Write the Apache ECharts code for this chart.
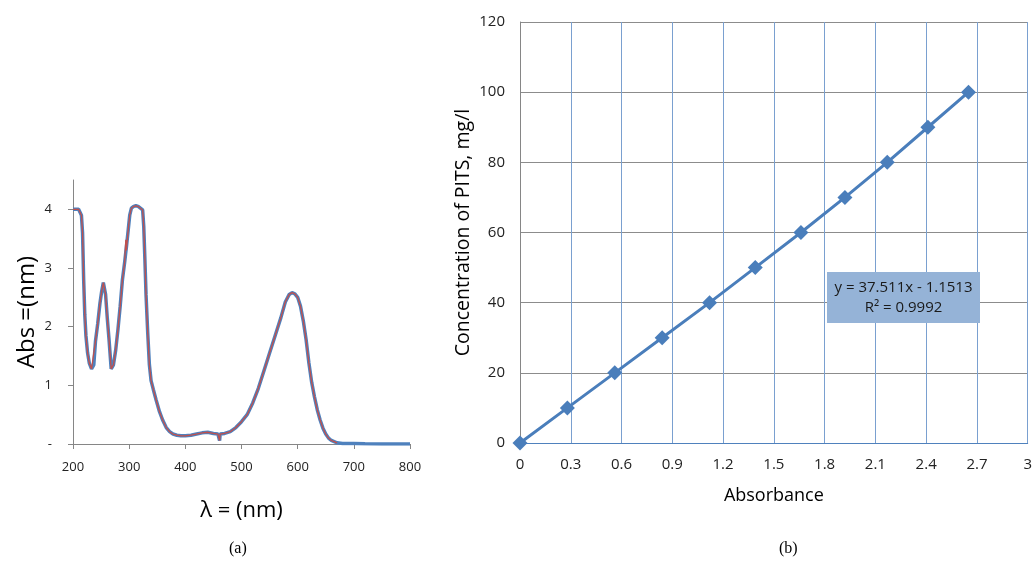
<!DOCTYPE html>
<html>
<head>
<meta charset="utf-8">
<script src="https://cdn.jsdelivr.net/npm/echarts@6/dist/echarts.min.js"></script>
<style>html,body{margin:0;padding:0;background:#fff}#c{width:1035px;height:564px}</style>
</head>
<body>
<div id="c"></div>
<script>
// ---- (a) absorption spectrum ----
const wavelengths = [200,205,210,213,215,217,219,221,223,226,229,233,236,237,240,244,248,251,254,256,258,261,264,268,272,276,280,284,288,292,294,295,298,301,304,308,312,316,320,324,326,328,330,333,336,339,343,348,354,360,366,372,378,385,392,400,410,420,430,440,450,458,460,461,462,470,480,490,500,510,520,530,540,550,560,570,578,585,590,595,600,605,610,615,620,625,630,635,640,645,650,655,660,665,670,680,700,720,750,800];
const absBlue = [4.0,4.0,4.0,4.0,3.9,3.6,2.8,2.2,1.85,1.55,1.38,1.28,1.3,1.35,1.75,2.05,2.4,2.6,2.75,2.72,2.55,2.15,1.8,1.28,1.35,1.6,1.95,2.35,2.8,3.1,3.27,3.35,3.62,3.9,4.02,4.05,4.06,4.05,4.02,3.99,3.7,3.15,2.55,1.9,1.35,1.08,0.93,0.75,0.55,0.4,0.28,0.21,0.17,0.15,0.14,0.14,0.15,0.17,0.19,0.2,0.18,0.17,0.17,0.06,0.17,0.18,0.21,0.28,0.38,0.5,0.7,0.95,1.25,1.55,1.85,2.15,2.42,2.55,2.58,2.56,2.5,2.35,2.1,1.78,1.38,1.05,0.8,0.58,0.41,0.27,0.17,0.1,0.06,0.04,0.02,0.01,0.01,0.005,0,0];
const absRed = [4.0,4.0,4.0,4.0,3.9,3.6,2.8,2.2,1.85,1.55,1.38,1.28,1.3,1.55,1.75,2.05,2.4,2.6,2.75,2.72,2.55,2.15,1.8,1.28,1.35,1.6,1.95,2.35,2.8,3.1,3.48,3.3,3.62,3.9,4.02,4.05,4.06,4.05,4.02,3.99,3.7,3.15,2.55,1.9,1.35,1.08,0.93,0.75,0.55,0.4,0.28,0.21,0.17,0.15,0.14,0.14,0.15,0.17,0.19,0.2,0.18,0.17,0.17,0.06,0.17,0.18,0.21,0.28,0.38,0.5,0.7,0.95,1.25,1.55,1.85,2.15,2.42,2.55,2.58,2.56,2.5,2.35,2.1,1.78,1.38,1.05,0.8,0.58,0.41,0.27,0.17,0.1,0.06,0.04,0.02];
const absTicks = [0,1,2,3,4];

// ---- (b) calibration ----
const absorbance = [0,0.28,0.56,0.84,1.12,1.39,1.66,1.92,2.17,2.41,2.65];
const concentration = [0,10,20,30,40,50,60,70,80,90,100];
const fitText = ['y = 37.511x - 1.1513','R² = 0.9992'];

const blueData = wavelengths.map((w,i)=>[w,absBlue[i]]);
const redData = absRed.map((v,i)=>[wavelengths[i],v]);
const calData = absorbance.map((a,i)=>[a,concentration[i]]);

const FONT = '"Open Sans", sans-serif';
const chart = echarts.init(document.getElementById('c'));
chart.setOption({
  animation:false,
  backgroundColor:'#fff',
  grid:[
    {left:73,right:625,top:180,bottom:120},
    {left:520,right:6,top:22,bottom:121}
  ],
  xAxis:[
    {gridIndex:0,type:'value',min:200,max:800,interval:100,
     name:'λ = (nm)',nameLocation:'middle',nameGap:56,
     nameTextStyle:{fontFamily:FONT,fontSize:22,color:'#000'},
     axisLine:{lineStyle:{color:'#868686',width:1}},
     axisTick:{show:true,length:5,lineStyle:{color:'#868686'}},
     axisLabel:{fontFamily:FONT,fontSize:13,color:'#222',margin:17},
     splitLine:{show:false}},
    {gridIndex:1,type:'value',min:0,max:3,interval:0.3,
     name:'Absorbance',nameLocation:'middle',nameGap:44,
     nameTextStyle:{fontFamily:FONT,fontSize:18,color:'#000'},
     axisLine:{onZero:false,lineStyle:{color:'#4f81bd',width:1}},
     axisTick:{show:false},
     axisLabel:{fontFamily:FONT,fontSize:15,color:'#222',margin:14,
       formatter:v=>String(+v.toFixed(1))},
     splitLine:{show:true,lineStyle:{color:'#7aa0d0',width:1}}}
  ],
  yAxis:[
    {gridIndex:0,type:'value',min:0,max:4.5,
     name:'Abs =(nm)',nameLocation:'middle',nameGap:34,
     nameTextStyle:{fontFamily:FONT,fontSize:24,color:'#000'},
     axisLine:{show:true,lineStyle:{color:'#868686',width:1}},
     axisTick:{show:true,length:5,customValues:absTicks,lineStyle:{color:'#868686'}},
     axisLabel:{fontFamily:FONT,fontSize:13,color:'#222',margin:21,customValues:absTicks,
       formatter:v=>v===0?'-':String(v)},
     splitLine:{show:false}},
    {gridIndex:1,type:'value',min:0,max:120,interval:20,
     name:'Concentration of PITS, mg/l',nameLocation:'middle',nameGap:47,
     nameTextStyle:{fontFamily:FONT,fontSize:19.5,color:'#000'},
     axisLine:{show:true,onZero:false,lineStyle:{color:'#868686',width:1}},
     axisTick:{show:false},
     axisLabel:{fontFamily:FONT,fontSize:15,color:'#222',margin:15},
     splitLine:{show:true,lineStyle:{color:'#8c8c8c',width:1}}}
  ],
  series:[
    {type:'line',xAxisIndex:0,yAxisIndex:0,data:blueData,showSymbol:false,symbol:'none',
     lineStyle:{color:'#4f81bd',width:3.5},z:2},
    {type:'line',xAxisIndex:0,yAxisIndex:0,data:redData,showSymbol:false,symbol:'none',
     lineStyle:{color:'#c0504d',width:1.3},z:3},
    {type:'line',xAxisIndex:1,yAxisIndex:1,data:calData,symbol:'diamond',symbolSize:15,
     itemStyle:{color:'#4a7ebb'},lineStyle:{color:'#4a7ebb',width:3},z:3}
  ],
  graphic:[
    {type:'rect',z:100,shape:{x:827,y:272,width:153,height:51},style:{fill:'#95b3d7'}},
    {type:'text',z:101,x:903.5,y:288,style:{text:fitText[0],fontFamily:FONT,fontSize:15,fill:'#1a1a1a',align:'center',verticalAlign:'middle'}},
    {type:'text',z:101,x:903.5,y:308,style:{text:fitText[1],fontFamily:FONT,fontSize:15,fill:'#1a1a1a',align:'center',verticalAlign:'middle'}},
    {type:'text',left:229,top:541,style:{text:'(a)',fontFamily:'"Liberation Serif", serif',fontSize:16,fill:'#000'}},
    {type:'text',left:779,top:541,style:{text:'(b)',fontFamily:'"Liberation Serif", serif',fontSize:16,fill:'#000'}}
  ]
});
</script>
</body>
</html>
